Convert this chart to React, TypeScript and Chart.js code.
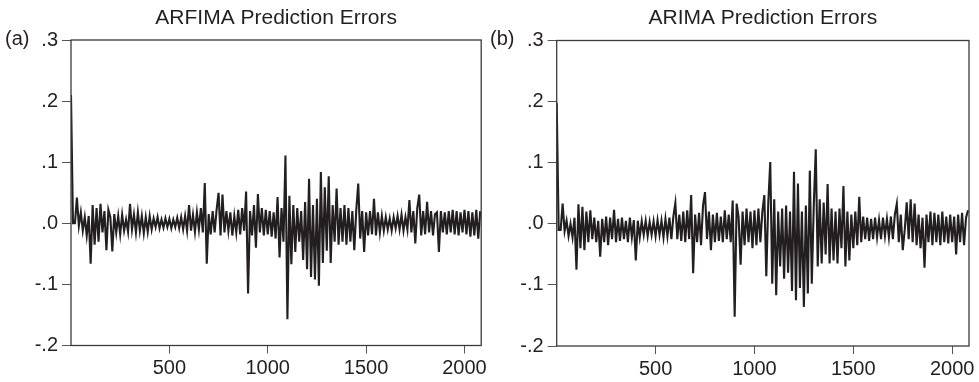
import React, { useEffect, useRef } from "react";
import { Chart, registerables } from "chart.js";

Chart.register(...registerables);

// ---- data ----
const STEP = 10; // observation spacing between stored points
const X_MAX = 2085;
const X_TICKS = [500, 1000, 1500, 2000];
const Y_TICKS = [-0.2, -0.1, 0, 0.1, 0.2, 0.3];
const TITLES = ["ARFIMA Prediction Errors", "ARIMA Prediction Errors"];
const PANEL_TAGS = ["(a)", "(b)"];

// ARFIMA prediction errors, one value every STEP observations (starting at 0)
const arfimaErrors = [
  0.21, 0.0, 0.0, 0.042, -0.004, 0.018, -0.012, 0.01, -0.02, 0.012,
  -0.066, 0.03, -0.035, 0.025, -0.03, 0.032, -0.015, 0.02, -0.044, 0.022,
  0.01, -0.046, 0.015, -0.015, 0.012, -0.018, 0.014, -0.012, 0.006, -0.014,
  0.032, -0.01, 0.014, -0.015, 0.018, -0.012, 0.012, -0.016, 0.01, -0.014,
  0.012, -0.01, 0.008, -0.006, 0.01, -0.008, 0.006, -0.007, 0.008, -0.006,
  0.007, -0.008, 0.006, -0.006, 0.009, -0.008, 0.01, -0.01, 0.012, -0.012,
  0.03, -0.012, 0.014, -0.014, 0.018, -0.01, 0.025, -0.015, 0.066, -0.066,
  0.015, -0.018, 0.02, -0.015, 0.022, 0.05, -0.02, 0.047, -0.015, 0.02,
  -0.012, 0.018, -0.02, 0.012, -0.015, 0.022, -0.018, 0.025, -0.012, 0.052,
  -0.115, 0.02, -0.02, 0.03, -0.04, 0.048, -0.015, 0.025, -0.02, 0.022,
  -0.018, 0.02, -0.022, 0.018, -0.025, 0.043, -0.056, 0.025, -0.03, 0.111,
  -0.157, 0.045, -0.067, 0.03, -0.047, 0.025, -0.03, 0.02, -0.06, 0.035,
  -0.075, 0.073, -0.088, 0.03, -0.092, 0.04, -0.102, 0.084, -0.065, 0.059,
  -0.045, 0.077, -0.065, 0.03, -0.03, 0.057, -0.035, 0.025, -0.03, 0.03,
  -0.035, 0.025, -0.03, 0.02, -0.044, 0.022, 0.065, -0.025, 0.02, -0.047,
  0.018, -0.02, 0.02, -0.018, 0.04, -0.02, 0.018, -0.015, 0.012, -0.012,
  0.01, -0.01, 0.008, -0.012, 0.01, -0.008, 0.012, -0.01, 0.014, -0.012,
  0.01, -0.01, 0.038, -0.015, 0.02, -0.033, 0.025, 0.047, -0.02, 0.02,
  -0.018, 0.035, -0.015, 0.02, -0.02, 0.015, 0.018, -0.047, 0.02, -0.015,
  0.018, -0.018, 0.02, -0.015, 0.022, -0.018, 0.02, -0.02, 0.018, -0.015,
  0.022, -0.018, 0.02, -0.022, 0.018, -0.02, 0.022, -0.025, 0.02,
];

// ARIMA prediction errors, one value every STEP observations (starting at 0)
const arimaErrors = [
  0.198, -0.01, -0.01, 0.033, -0.012, 0.005, -0.02, 0.0, -0.022, 0.01,
  -0.075, 0.032, -0.04, 0.028, -0.043, 0.02, -0.03, 0.022, -0.025, 0.01,
  -0.03, 0.005, -0.054, 0.008, -0.03, 0.012, -0.035, 0.01, -0.025, 0.023,
  -0.03, 0.008, -0.028, 0.01, -0.025, 0.005, -0.03, 0.01, -0.022, 0.006,
  -0.06, 0.005, -0.022, 0.004, -0.018, 0.005, -0.02, 0.003, -0.018, 0.004,
  -0.02, 0.006, -0.018, 0.005, -0.022, 0.008, -0.02, 0.01, -0.025, 0.012,
  0.034, -0.025, 0.015, -0.028, 0.02, -0.03, 0.022, -0.025, 0.047, -0.081,
  0.015, -0.03, 0.018, -0.035, 0.03, 0.052, -0.025, 0.02, -0.043, 0.015,
  -0.03, 0.018, -0.028, 0.012, -0.03, 0.022, -0.025, 0.015, -0.03, 0.038,
  -0.152, 0.033, 0.01, -0.067, 0.02, -0.035, 0.025, -0.03, 0.02, -0.04,
  0.022, -0.035, 0.025, -0.03, 0.02, 0.047, -0.086, 0.035, 0.101, -0.098,
  0.04, -0.117, 0.02, -0.07, 0.025, -0.09, 0.03, -0.08, 0.02, -0.11,
  0.085, -0.125, 0.066, -0.105, 0.02, -0.136, 0.03, -0.114, 0.087, -0.098,
  0.03, 0.122, -0.07, 0.04, -0.065, 0.035, -0.05, 0.065, -0.065, 0.025,
  -0.06, 0.02, -0.065, 0.025, -0.04, 0.062, -0.07, 0.02, -0.06, 0.015,
  -0.04, 0.02, -0.035, 0.044, -0.03, 0.012, -0.025, 0.01, -0.028, 0.008,
  -0.025, 0.01, -0.022, 0.006, -0.025, 0.01, -0.02, 0.008, -0.022, 0.012,
  -0.025, 0.015, 0.033, -0.03, 0.015, -0.043, -0.01, 0.035, -0.025, 0.04,
  -0.03, 0.033, -0.035, 0.015, -0.04, 0.01, -0.072, 0.015, -0.03, 0.02,
  -0.035, 0.018, -0.03, 0.015, -0.035, 0.02, -0.03, 0.012, -0.032, 0.015,
  -0.03, 0.012, -0.05, 0.015, -0.03, 0.018, -0.035, 0.01, 0.022,
];

const SERIES = [arfimaErrors, arimaErrors];

// ---- style / layout ----
const FONT = '"Liberation Sans", Arial, Helvetica, sans-serif';
const INK = "#231f20";
const AXIS = "#3a3a3a";

type PanelGeom = {
  canvasLeft: number;
  canvasWidth: number;
  axisWidth: number;
  padRight: number;
  padTop: number;
  bottomH: number;
};

const GEOMS: PanelGeom[] = [
  { canvasLeft: 0, canvasWidth: 490, axisWidth: 71, padRight: 6.7, padTop: 40, bottomH: 36.5 },
  { canvasLeft: 490, canvasWidth: 489, axisWidth: 66.7, padRight: 10, padTop: 40.5, bottomH: 36 },
];

function fmtY(v: number): string {
  const s = (Math.round(v * 10) / 10).toFixed(1);
  if (s === "0.0" || s === "-0.0") return ".0";
  return s.replace("0.", ".");
}

function Panel({ idx }: { idx: number }) {
  const ref = useRef<HTMLCanvasElement | null>(null);
  const g = GEOMS[idx];

  useEffect(() => {
    if (!ref.current) return;
    const values = SERIES[idx];
    const title = TITLES[idx];
    const tag = PANEL_TAGS[idx];

    const frame = {
      id: "frame" + idx,
      afterDraw(chart: any) {
        const { ctx, chartArea } = chart;
        const { left, top, right, bottom } = chartArea;
        ctx.save();
        ctx.strokeStyle = AXIS;
        ctx.lineWidth = 1.3;
        ctx.strokeRect(left, top, right - left, bottom - top);
        ctx.fillStyle = INK;
        ctx.font = `21px ${FONT}`;
        ctx.textAlign = "center";
        ctx.textBaseline = "alphabetic";
        ctx.fillText(title, (left + right) / 2, 24);
        ctx.font = `20px ${FONT}`;
        ctx.textAlign = "left";
        ctx.textBaseline = "middle";
        const yScale = chart.scales.y;
        ctx.fillText(tag, idx === 0 ? 5 : 0, yScale.getPixelForValue(0.3) - 1);
        ctx.restore();
      },
    };

    const chart = new Chart(ref.current, {
      type: "line",
      data: {
        datasets: [
          {
            data: values.map((v, i) => ({ x: i * STEP, y: v })),
            borderColor: INK,
            borderWidth: 2.1,
            pointRadius: 0,
            tension: 0,
            fill: false,
          },
        ],
      },
      options: {
        responsive: false,
        animation: false,
        events: [],
        layout: { padding: { left: 0, right: g.padRight, top: g.padTop, bottom: 0 } },
        plugins: {
          legend: { display: false },
          tooltip: { enabled: false },
          title: { display: false },
        },
        scales: {
          x: {
            type: "linear",
            min: 0,
            max: X_MAX,
            afterBuildTicks: (s: any) => {
              s.ticks = X_TICKS.map((v) => ({ value: v }));
            },
            afterFit: (s: any) => {
              s.height = g.bottomH;
            },
            grid: {
              display: true,
              drawOnChartArea: false,
              drawTicks: true,
              tickLength: 8,
              color: "#555",
              lineWidth: 1,
            },
            border: { display: false },
            ticks: {
              color: INK,
              font: { family: FONT, size: 20 },
              padding: 3,
              maxRotation: 0,
              autoSkip: false,
              callback: (v: any) => String(v),
            },
          },
          y: {
            type: "linear",
            min: -0.2,
            max: 0.3,
            afterBuildTicks: (s: any) => {
              s.ticks = Y_TICKS.map((v) => ({ value: v }));
            },
            afterFit: (s: any) => {
              s.width = g.axisWidth;
            },
            grid: {
              display: true,
              drawOnChartArea: false,
              drawTicks: true,
              tickLength: 9,
              color: "#555",
              lineWidth: 1,
            },
            border: { display: false },
            ticks: {
              color: INK,
              font: { family: FONT, size: 20 },
              padding: 4,
              autoSkip: false,
              callback: (v: any) => fmtY(Number(v)),
            },
          },
        },
      },
      plugins: [frame],
    } as any);

    return () => chart.destroy();
  }, [idx]);

  return (
    <canvas
      ref={ref}
      width={g.canvasWidth}
      height={382}
      style={{ position: "absolute", left: g.canvasLeft, top: 0, width: g.canvasWidth, height: 382 }}
    />
  );
}

export default function App() {
  return (
    <div style={{ position: "fixed", left: 0, top: 0, width: 979, height: 382, background: "#fff" }}>
      <Panel idx={0} />
      <Panel idx={1} />
    </div>
  );
}
